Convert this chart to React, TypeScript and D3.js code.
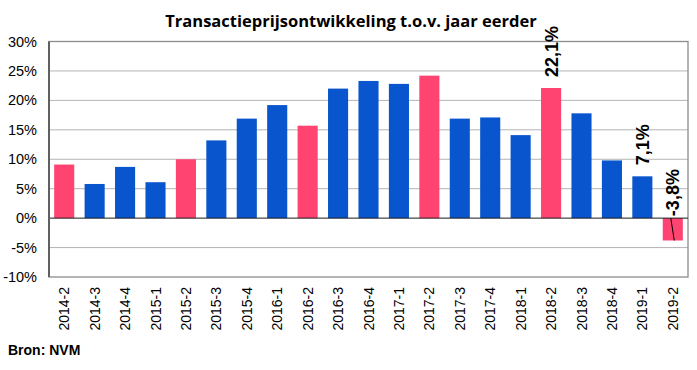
import React from "react";
import * as d3 from "d3";

const categories = [
  "2014-2", "2014-3", "2014-4", "2015-1", "2015-2", "2015-3", "2015-4",
  "2016-1", "2016-2", "2016-3", "2016-4", "2017-1", "2017-2", "2017-3",
  "2017-4", "2018-1", "2018-2", "2018-3", "2018-4", "2019-1", "2019-2",
];
const values = [
  9.1, 5.8, 8.7, 6.1, 10.0, 13.2, 16.9, 19.2, 15.7, 22.0, 23.3, 22.8, 24.2,
  16.9, 17.1, 14.1, 22.1, 17.8, 9.8, 7.1, -3.8,
];
const highlighted = ["2014-2", "2015-2", "2016-2", "2017-2", "2018-2", "2019-2"];
const labelled = ["2018-2", "2019-1", "2019-2"];
const yTicks = [-10, -5, 0, 5, 10, 15, 20, 25, 30];

const W = 697;
const H = 370;
const L = 49;
const R = 688;
const T = 41.5;
const B = 277;

const BLUE = "#0855CD";
const PINK = "#FF4471";

export default function App() {
  const x = d3.scaleBand<string>().domain(categories).range([L, R]).paddingInner(0.34).paddingOuter(0.17);
  const y = d3.scaleLinear().domain([-10, 30]).range([B, T]);
  const fmt = (v: number) => v.toFixed(1).replace(".", ",") + "%";

  return (
    <svg width={W} height={H} style={{ position: "absolute", left: 0, top: 0, background: "#fff" }}>
      <text x={351} y={27} textAnchor="middle" fontFamily="'Open Sans', sans-serif" fontWeight="bold" fontSize={16.5} fill="#000">
        Transactieprijsontwikkeling t.o.v. jaar eerder
      </text>
      {yTicks.filter((t) => t !== 0 && t !== 30 && t !== -10).map((t) => (
        <line key={"g" + t} x1={L} x2={R} y1={y(t)} y2={y(t)} stroke="#B4B4B4" strokeWidth={1} />
      ))}
      <rect x={L} y={T} width={R - L} height={B - T} fill="none" stroke="#8C8C8C" strokeWidth={1.3} />
      {categories.map((c, i) => {
        const v = values[i];
        const y0 = y(0);
        const yv = y(v);
        return (
          <rect
            key={c}
            x={x(c)}
            y={Math.min(y0, yv)}
            width={x.bandwidth()}
            height={Math.abs(yv - y0)}
            fill={highlighted.includes(c) ? PINK : BLUE}
          />
        );
      })}
      <line x1={L} x2={R} y1={y(0)} y2={y(0)} stroke="#1a1a1a" strokeWidth={1} />
      <line x1={L} x2={L} y1={T} y2={B} stroke="#606060" strokeWidth={2} />
      {yTicks.map((t) => (
        <text key={"yt" + t} x={37} y={y(t) + 5} textAnchor="end" fontFamily="Arial, 'Liberation Sans', sans-serif" fontSize={14.5} fill="#000">
          {t}%
        </text>
      ))}
      {categories.map((c) => {
        const cx = (x(c) as number) + x.bandwidth() / 2 + 5;
        return (
          <text key={"xl" + c} transform={`translate(${cx},${287}) rotate(-90)`} textAnchor="end" fontFamily="Arial, 'Liberation Sans', sans-serif" fontSize={14} fill="#000">
            {c}
          </text>
        );
      })}
      {labelled.map((c) => {
        const i = categories.indexOf(c);
        const v = values[i];
        const cx = (x(c) as number) + x.bandwidth() / 2 + 6.5;
        const base = v >= 0 ? y(v) - 11 : y(0) - 2;
        return (
          <text key={"lbl" + c} transform={`translate(${cx},${base}) rotate(-90)`} textAnchor="start" fontFamily="Arial, 'Liberation Sans', sans-serif" fontWeight="bold" fontSize={18} fill="#000">
            {fmt(v)}
          </text>
        );
      })}
      {labelled.filter((c) => values[categories.indexOf(c)] < 0).map((c) => {
        const v = values[categories.indexOf(c)];
        const cx = (x(c) as number) + x.bandwidth() / 2;
        return <line key={"ld" + c} x1={cx - 2} y1={y(0)} x2={cx + 1.5} y2={y(v)} stroke="#000" strokeWidth={1} />;
      })}
      <text x={8} y={355} fontFamily="Arial, 'Liberation Sans', sans-serif" fontWeight="bold" fontSize={14} fill="#000">
        Bron: NVM
      </text>
    </svg>
  );
}
